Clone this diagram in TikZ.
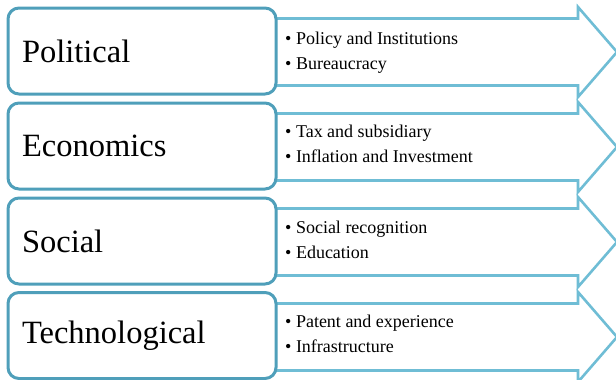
\documentclass[tikz,border=0pt]{standalone}
\usepackage{fontspec}
\setmainfont{Liberation Serif}

\definecolor{boxline}{HTML}{4F9FBA}
\definecolor{arrowline}{HTML}{6FBDD5}

\begin{document}
\begin{tikzpicture}[x=1pt,y=-1pt,
  factor/.style={draw=boxline, line width=3pt, rounded corners=11pt, fill=white,
    minimum width=268pt, minimum height=86pt, text width=240pt, inner xsep=14pt,
    align=left, font=\fontsize{32.5}{37}\selectfont},
  banner/.style={draw=arrowline, line width=2.6pt, line join=miter, fill=white},
  item/.style={anchor=base west, inner sep=0pt, font=\fontsize{18}{21}\selectfont}]
\useasboundingbox (0,0) rectangle (616,380);

% arrow-shaped banners, one per factor row (centre line y = \c)
\foreach \c in {52,147,242,337}{
  \draw[banner] (270,\c-33.5) -- (578,\c-33.5) -- (578,\c-45) -- (617,\c)
    -- (578,\c+45) -- (578,\c+33.5) -- (270,\c+33.5) -- cycle;
}

% factor boxes
\node[factor] (pol) at (142,51)    {Political};
\node[factor] (eco) at (142,146)   {Economics};
\node[factor] (soc) at (142,241)   {Social};
\node[factor] (tec) at (142,335.5) {Technological};

% sub-items inside each banner
\newcommand{\bul}[1]{\textbullet\hspace{4.5pt}#1}
\node[item] (pol1) at (285,44)  {\bul{Policy and Institutions}};
\node[item] (pol2) at (285,69)  {\bul{Bureaucracy}};
\node[item] (eco1) at (285,137) {\bul{Tax and subsidiary}};
\node[item] (eco2) at (285,162) {\bul{Inflation and Investment}};
\node[item] (soc1) at (285,233) {\bul{Social recognition}};
\node[item] (soc2) at (285,258) {\bul{Education}};
\node[item] (tec1) at (285,327) {\bul{Patent and experience}};
\node[item] (tec2) at (285,352) {\bul{Infrastructure}};
\end{tikzpicture}
\end{document}
